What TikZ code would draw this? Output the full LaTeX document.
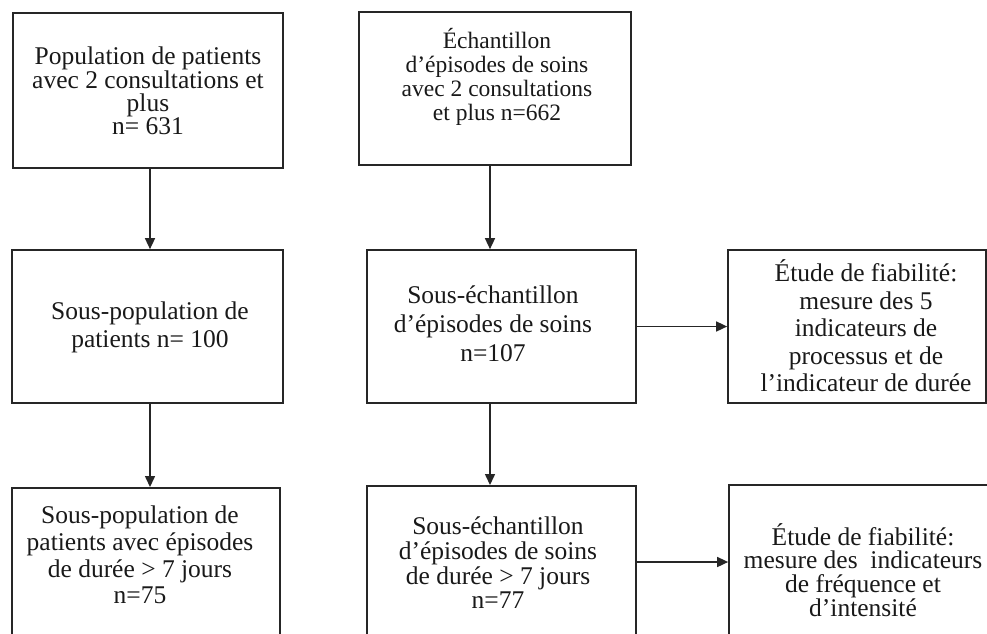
\documentclass[tikz,border=0pt]{standalone}
\usepackage{fontspec}
\setmainfont{Liberation Serif}
\usetikzlibrary{arrows.meta}
\tikzset{
  box/.style={draw=black!85, line width=1.7pt, inner sep=0pt, fill=none},
  txt/.style={align=center, inner sep=0pt, text=black!90},
  arr/.style={draw=black!85, line width=1.5pt, -{Triangle[length=11pt,width=10pt]}}
}
\begin{document}
\begin{tikzpicture}[x=1pt,y=1pt]
\clip (0,0) rectangle (987,-633);
\fill[white] (0,0) rectangle (987,-633);
% boxes
\node[box, minimum width=270pt, minimum height=155pt] (b1) at (148,-90.5) {};
\node[box, minimum width=272pt, minimum height=153pt] (b2) at (495,-88.5) {};
\node[box, minimum width=271pt, minimum height=153pt] (b3) at (147.5,-326.5) {};
\node[box, minimum width=269pt, minimum height=153pt] (b4) at (501.5,-326.5) {};
\node[box, minimum width=258pt, minimum height=153pt] (b5) at (857,-326.5) {};
\node[box, minimum width=268pt, minimum height=180pt, anchor=north] (b6) at (146,-487) {};
\node[box, minimum width=269pt, minimum height=180pt, anchor=north] (b7) at (501.5,-485) {};
\node[box, minimum width=261pt, minimum height=180pt, anchor=north] (b8) at (859.5,-484) {};
% texts
\node[txt, font=\fontsize{25.5}{23.3}\selectfont] (t1) at (148,-91) {Population de patients\\avec 2 consultations et\\plus\\n= 631};
\node[txt, font=\fontsize{23.5}{24}\selectfont] (t2) at (497,-77) {Échantillon\\d’épisodes de soins\\avec 2 consultations\\et plus n=662};
\node[txt, font=\fontsize{25.5}{28}\selectfont] (t3) at (150,-327) {Sous-population de\\patients n= 100};
\node[txt, font=\fontsize{25.5}{29}\selectfont] (t4) at (493,-324) {Sous-échantillon\\d’épisodes de soins\\n=107};
\node[txt, font=\fontsize{25.5}{27.5}\selectfont] (t5) at (866,-326) {Étude de fiabilité:\\mesure des 5\\indicateurs de\\processus et de\\l’indicateur de durée};
\node[txt, font=\fontsize{25.5}{26.7}\selectfont] (t6) at (140,-555) {Sous-population de\\patients avec épisodes\\de durée > 7 jours\\n=75};
\node[txt, font=\fontsize{25.5}{24.7}\selectfont] (t7) at (498,-563) {Sous-échantillon\\d’épisodes de soins\\de durée > 7 jours\\n=77};
\node[txt, font=\fontsize{25.5}{23.7}\selectfont] (t8) at (863,-570) {Étude de fiabilité:\\mesure des~ indicateurs\\de fréquence et\\d’intensité};
% connectors
\coordinate (xl) at (150,0);
\coordinate (xm) at (490,0);
\coordinate (h2) at (0,-562);
\draw[arr] (b1.south -| xl) -- (b3.north -| xl);
\draw[arr] (b3.south -| xl) -- (b6.north -| xl);
\draw[arr] (b2.south -| xm) -- (b4.north -| xm);
\draw[arr] (b4.south -| xm) -- (b7.north -| xm);
\draw[arr] (b4.east) -- (b5.west);
\draw[arr] (b7.east |- h2) -- (b8.west |- h2);
\end{tikzpicture}
\end{document}
